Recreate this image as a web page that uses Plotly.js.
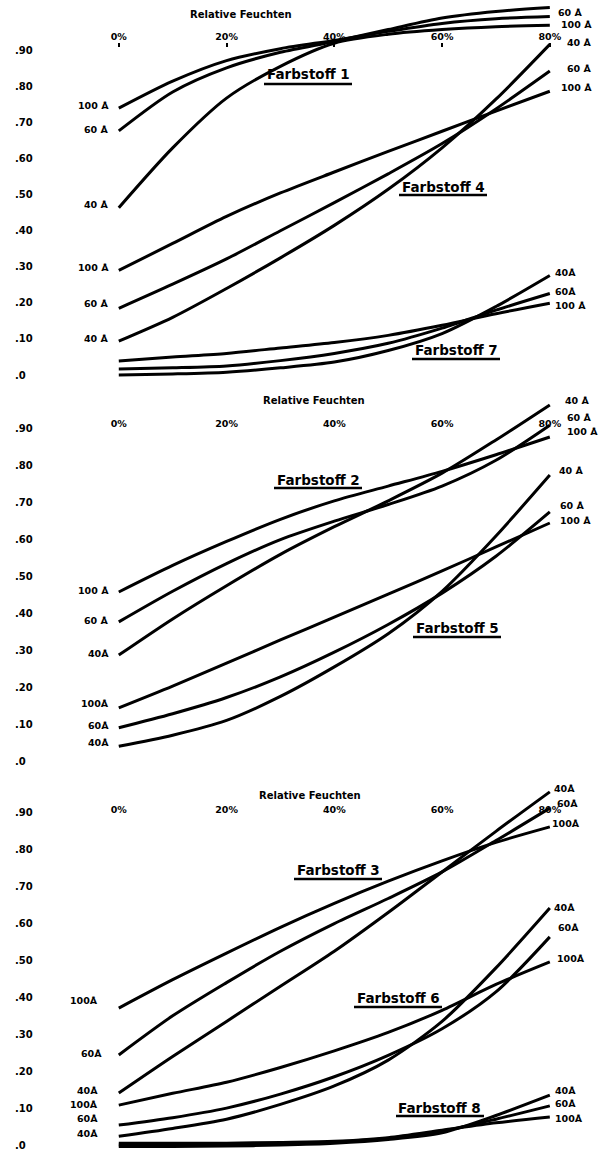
<!DOCTYPE html>
<html>
<head>
<meta charset="utf-8">
<script src="https://cdn.plot.ly/plotly-3.0.1.min.js"></script>
<style>html,body{margin:0;padding:0;background:#fff}</style>
</head>
<body>
<div id="chart" style="width:600px;height:1153px"></div>
<script>
// Relative humidity (%) at which each curve is sampled
const humidity = [0, 10, 20, 30, 40, 50, 60, 70, 80];

// Panel 1
const f1_40  = [0.464, 0.63, 0.768, 0.856, 0.92, 0.945, 0.958, 0.966, 0.97];
const f1_60  = [0.677, 0.785, 0.852, 0.895, 0.925, 0.958, 0.99, 1.008, 1.019];
const f1_100 = [0.74, 0.815, 0.872, 0.905, 0.928, 0.953, 0.975, 0.988, 0.994];
const f4_40  = [0.094, 0.16, 0.24, 0.325, 0.415, 0.515, 0.63, 0.765, 0.917];
const f4_60  = [0.185, 0.252, 0.322, 0.40, 0.478, 0.558, 0.642, 0.738, 0.843];
const f4_100 = [0.29, 0.365, 0.44, 0.505, 0.563, 0.62, 0.676, 0.732, 0.787];
const f7_40  = [0.0, 0.003, 0.008, 0.02, 0.036, 0.068, 0.115, 0.19, 0.276];
const f7_60  = [0.017, 0.02, 0.025, 0.04, 0.06, 0.088, 0.13, 0.18, 0.226];
const f7_100 = [0.039, 0.05, 0.06, 0.075, 0.09, 0.11, 0.138, 0.17, 0.199];

// Panel 2
const f2_40  = [0.287, 0.385, 0.475, 0.56, 0.635, 0.705, 0.78, 0.87, 0.965];
const f2_60  = [0.377, 0.46, 0.535, 0.60, 0.65, 0.695, 0.745, 0.815, 0.91];
const f2_100 = [0.458, 0.53, 0.595, 0.655, 0.705, 0.745, 0.785, 0.83, 0.878];
const f5_40  = [0.04, 0.07, 0.11, 0.175, 0.255, 0.345, 0.46, 0.61, 0.775];
const f5_60  = [0.09, 0.128, 0.172, 0.228, 0.295, 0.37, 0.455, 0.555, 0.675];
const f5_100 = [0.144, 0.203, 0.265, 0.328, 0.39, 0.452, 0.515, 0.58, 0.645];

// Panel 3
const f3_40  = [0.141, 0.24, 0.335, 0.43, 0.525, 0.63, 0.74, 0.85, 0.957];
const f3_60  = [0.244, 0.35, 0.44, 0.525, 0.60, 0.668, 0.74, 0.825, 0.913];
const f3_100 = [0.371, 0.448, 0.52, 0.59, 0.655, 0.715, 0.77, 0.82, 0.862];
const f6_40  = [0.024, 0.045, 0.07, 0.11, 0.16, 0.23, 0.335, 0.48, 0.642];
const f6_60  = [0.054, 0.074, 0.10, 0.138, 0.185, 0.243, 0.315, 0.415, 0.564];
const f6_100 = [0.108, 0.14, 0.17, 0.21, 0.255, 0.305, 0.365, 0.435, 0.496];
const f8_40  = [-0.004, -0.004, -0.003, 0.0, 0.005, 0.015, 0.033, 0.08, 0.135];
const f8_60  = [0.0, 0.0, 0.0, 0.003, 0.008, 0.018, 0.038, 0.07, 0.106];
const f8_100 = [0.005, 0.005, 0.005, 0.007, 0.01, 0.02, 0.04, 0.06, 0.076];

// Axis tick labels
const xTickVals = [0, 20, 40, 60, 80];
const xTickText = ['0%', '20%', '40%', '60%', '80%'];
const yTickVals = [0, 0.1, 0.2, 0.3, 0.4, 0.5, 0.6, 0.7, 0.8, 0.9];
const yTickText = ['.0', '.10', '.20', '.30', '.40', '.50', '.60', '.70', '.80', '.90'];
const axisTitle = 'Relative Feuchten';

// ---- page geometry (pixels -> paper fractions) ----
const W = 600, H = 1153;
const px = x => x / W;
const py = y => 1 - y / H;
const FONT = 'DejaVu Sans';
const INK = '#000';

const xDom = [px(108.0), px(560.6)];
const xRange = [-2, 82];

// zero line pixel row, pixels per unit, value range, x-axis row
const panels = [
  {y0: 375,  k: 362, lo: -0.03, hi: 1.04, axisY: 42},
  {y0: 761,  k: 369, lo: -0.04, hi: 1.00, axisY: 429},
  {y0: 1145, k: 369, lo: -0.02, hi: 1.00, axisY: 815}
];

const series = [
  [[f1_40, f1_60, f1_100], [f4_40, f4_60, f4_100], [f7_40, f7_60, f7_100]],
  [[f2_40, f2_60, f2_100], [f5_40, f5_60, f5_100]],
  [[f3_40, f3_60, f3_100], [f6_40, f6_60, f6_100], [f8_40, f8_60, f8_100]]
];
const sizes = ['40 Å', '60 Å', '100 Å'];

const traces = [];
series.forEach((dyes, p) => {
  const sfx = p === 0 ? '' : String(p + 1);
  dyes.forEach(group => {
    group.forEach((vals, i) => {
      traces.push({
        type: 'scatter', mode: 'lines',
        x: humidity, y: vals,
        xaxis: 'x' + sfx, yaxis: 'y' + sfx,
        name: sizes[i],
        line: {color: INK, width: 3, shape: 'spline', smoothing: 0.8},
        hoverinfo: 'skip', showlegend: false
      });
    });
  });
});

const layout = {
  width: W, height: H,
  margin: {l: 0, r: 0, t: 0, b: 0},
  paper_bgcolor: '#fff', plot_bgcolor: 'rgba(0,0,0,0)',
  showlegend: false,
  annotations: [], shapes: []
};

panels.forEach((P, p) => {
  const sfx = p === 0 ? '' : String(p + 1);
  layout['xaxis' + sfx] = {
    domain: xDom, range: xRange,
    anchor: 'free', position: py(P.axisY), side: 'top',
    tickmode: 'array', tickvals: xTickVals, ticktext: xTickText,
    ticks: p === 0 ? 'inside' : '', ticklen: 4, tickwidth: 2, tickcolor: INK,
    showline: false, showgrid: false, zeroline: false, fixedrange: true,
    tickfont: {family: FONT, size: 9.5, color: INK, weight: 'bold'}
  };
  layout['yaxis' + sfx] = {
    domain: [py(P.y0 - P.lo * P.k), py(P.y0 - P.hi * P.k)],
    range: [P.lo, P.hi],
    anchor: 'free', position: px(11), side: 'left',
    ticklabelposition: 'inside',
    tickmode: 'array', tickvals: yTickVals, ticktext: yTickText,
    ticks: '', showline: false, showgrid: false, zeroline: false, fixedrange: true,
    tickfont: {family: FONT, size: 10, color: INK, weight: 'bold'}
  };
});

// Axis titles above the percent labels
[[241, 15], [314, 400], [310, 795]].forEach(([x, y]) => {
  layout.annotations.push({
    xref: 'paper', yref: 'paper', x: px(x), y: py(y),
    xanchor: 'center', yanchor: 'middle', showarrow: false,
    text: axisTitle, font: {family: FONT, size: 10, color: INK, weight: 'bold'}
  });
});

// Dye names with underline
const dyeLabels = [
  ['Farbstoff 1', 308, 74, 84],
  ['Farbstoff 4', 443, 187, 195],
  ['Farbstoff 7', 456, 350, 359],
  ['Farbstoff 2', 318, 480, 488],
  ['Farbstoff 5', 457, 628, 637],
  ['Farbstoff 3', 338, 870, 879],
  ['Farbstoff 6', 398, 998, 1007],
  ['Farbstoff 8', 440, 1108, 1116]
];
dyeLabels.forEach(([t, cx, cy, uy]) => {
  layout.annotations.push({
    xref: 'paper', yref: 'paper', x: px(cx), y: py(cy),
    xanchor: 'center', yanchor: 'middle', showarrow: false,
    text: t, font: {family: FONT, size: 13.5, color: INK, weight: 'bold'}
  });
  layout.shapes.push({
    type: 'line', xref: 'paper', yref: 'paper',
    x0: px(cx - 44), x1: px(cx + 44), y0: py(uy), y1: py(uy),
    line: {color: INK, width: 2.5}
  });
});

// Pore-size labels at the start of each curve (right-aligned)
const leftLabels = [
  ['100 Å', 111, 106], ['60 Å', 111, 129], ['40 Å', 111, 204],
  ['100 Å', 111, 267], ['60 Å', 111, 304], ['40 Å', 111, 338],
  ['100 Å', 111, 590], ['60 Å', 111, 620], ['40Å', 111, 653],
  ['100Å', 111, 703], ['60Å', 111, 725], ['40Å', 111, 742],
  ['100Å', 100, 1000], ['60Å', 104, 1053], ['40Å', 100, 1090],
  ['100Å', 100, 1104], ['60Å', 100, 1118], ['40Å', 100, 1133]
];
// Pore-size labels at the end of each curve (left-aligned)
const rightLabels = [
  ['60 Å', 556, 12], ['100 Å', 559, 24], ['40 Å', 565, 42],
  ['60 Å', 565, 68], ['100 Å', 559, 87],
  ['40Å', 553, 273], ['60Å', 553, 291], ['100 Å', 553, 306],
  ['40 Å', 563, 400], ['60 Å', 565, 418], ['100 Å', 565, 431],
  ['40 Å', 557, 470], ['60 Å', 558, 506], ['100 Å', 558, 520],
  ['40Å', 552, 788], ['60Å', 555, 803], ['100Å', 550, 823],
  ['40Å', 552, 907], ['60Å', 556, 927], ['100Å', 555, 958],
  ['40Å', 553, 1090], ['60Å', 553, 1103], ['100Å', 553, 1118]
];
leftLabels.forEach(([t, x, y]) => layout.annotations.push({
  xref: 'paper', yref: 'paper', x: px(x), y: py(y),
  xanchor: 'right', yanchor: 'middle', showarrow: false,
  text: t, font: {family: FONT, size: 9.5, color: INK, weight: 'bold'}
}));
rightLabels.forEach(([t, x, y]) => layout.annotations.push({
  xref: 'paper', yref: 'paper', x: px(x), y: py(y),
  xanchor: 'left', yanchor: 'middle', showarrow: false,
  text: t, font: {family: FONT, size: 9.5, color: INK, weight: 'bold'}
}));

Plotly.newPlot('chart', traces, layout, {staticPlot: true, displayModeBar: false});
</script>
</body>
</html>
